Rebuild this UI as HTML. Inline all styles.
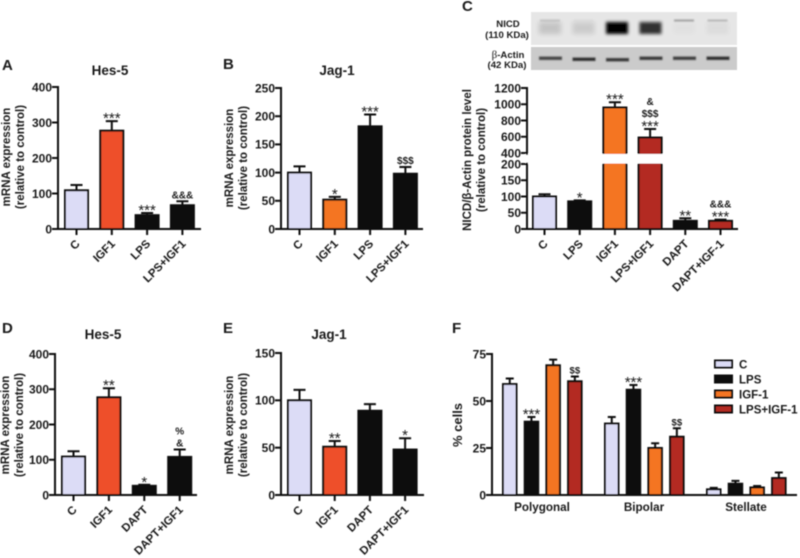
<!DOCTYPE html>
<html lang="en">
<head>
<meta charset="utf-8">
<title>Notch signalling figure</title>
<style>
html,body{margin:0;padding:0;background:#fff;}
svg{display:block;font-family:"Liberation Sans",Arial,sans-serif;}
text{fill:#1a1a1a;}
</style>
</head>
<body>
<svg id="figure" width="800" height="558" viewBox="0 0 800 558" xmlns="http://www.w3.org/2000/svg">
  <defs>
    <filter id="soft" x="-2%" y="-2%" width="104%" height="104%"><feGaussianBlur stdDeviation="0.4"/></filter>
    <filter id="bandBlur" x="-30%" y="-60%" width="160%" height="220%"><feGaussianBlur stdDeviation="1.6"/></filter>
    <filter id="bandBlurThin" x="-30%" y="-150%" width="160%" height="400%"><feGaussianBlur stdDeviation="0.9"/></filter>
    <filter id="bandBlurWide" x="-30%" y="-60%" width="160%" height="220%"><feGaussianBlur stdDeviation="2.4"/></filter>
  </defs>
  <g id="root" filter="url(#soft)">
    <text x="2" y="70" font-size="15" font-weight="bold">A</text>
    <text x="223" y="69" font-size="15" font-weight="bold">B</text>
    <text x="462" y="11" font-size="15" font-weight="bold">C</text>
    <text x="2" y="333" font-size="15" font-weight="bold">D</text>
    <text x="223" y="333" font-size="15" font-weight="bold">E</text>
    <text x="452" y="333" font-size="15" font-weight="bold">F</text>

    <text x="110" y="75" font-size="13.5" font-weight="bold" text-anchor="middle">Hes-5</text>
    <text x="337" y="75" font-size="13.5" font-weight="bold" text-anchor="middle">Jag-1</text>
    <text x="103" y="339" font-size="13.5" font-weight="bold" text-anchor="middle">Hes-5</text>
    <text x="329" y="339" font-size="13.5" font-weight="bold" text-anchor="middle">Jag-1</text>

    <g font-size="11.5" font-weight="bold" text-anchor="middle">
      <text transform="translate(10,157) rotate(-90)">mRNA expression</text>
      <text transform="translate(24,157) rotate(-90)">(relative to control)</text>
    </g>
    <g font-size="11.5" font-weight="bold" text-anchor="middle">
      <text transform="translate(233,158) rotate(-90)">mRNA expression</text>
      <text transform="translate(247,158) rotate(-90)">(relative to control)</text>
    </g>
    <g font-size="11.5" font-weight="bold" text-anchor="middle">
      <text transform="translate(471,160) rotate(-90)">NICD/β-Actin protein level</text>
      <text transform="translate(485,160) rotate(-90)">(relative to control)</text>
    </g>
    <g font-size="11.5" font-weight="bold" text-anchor="middle">
      <text transform="translate(9,425) rotate(-90)">mRNA expression</text>
      <text transform="translate(23,425) rotate(-90)">(relative to control)</text>
    </g>
    <g font-size="11.5" font-weight="bold" text-anchor="middle">
      <text transform="translate(233,425) rotate(-90)">mRNA expression</text>
      <text transform="translate(247,425) rotate(-90)">(relative to control)</text>
    </g>
    <text transform="translate(462,425) rotate(-90)" font-size="13" font-weight="bold" text-anchor="middle">% cells</text>

    <g>
      <rect x="531" y="12" width="206" height="33" fill="#e6e6e6"/>
      <rect x="531" y="47" width="206" height="23" fill="#cbcbcb"/>
      <g id="blotBands"></g>
      <g font-size="9.6" font-weight="bold" text-anchor="middle">
        <text x="508" y="27">NICD</text>
        <text x="507" y="38">(110 KDa)</text>
        <text x="508" y="58"><tspan font-family="'Liberation Serif',serif" font-weight="normal" font-size="11">β</tspan>-Actin</text>
        <text x="507" y="68">(42 KDa)</text>
      </g>
    </g>

    <g id="charts"></g>

    <g id="legend"></g>
  </g>
</svg>

<script>
// ---- Panel A ----
const panelACategories = ['C', 'IGF1', 'LPS', 'LPS+IGF1'];
const panelAValues = [109, 277, 39, 67];
const panelAErrorTops = [124, 304, 45, 78];
const panelATicks = [0, 100, 200, 300, 400];
const panelAMarks = [[], ['***'], ['***'], ['&&&']];

// ---- Panel B ----
const panelBCategories = ['C', 'IGF1', 'LPS', 'LPS+IGF1'];
const panelBValues = [100, 52, 182, 98];
const panelBErrorTops = [111, 57, 203, 110];
const panelBTicks = [0, 50, 100, 150, 200, 250];
const panelBMarks = [[], ['*'], ['***'], ['$$$']];

// ---- Panel C ----
const panelCCategories = ['C', 'LPS', 'IGF1', 'LPS+IGF1', 'DAPT', 'DAPT+IGF-1'];
const panelCValues = [100, 85, 960, 590, 25, 25];
const panelCErrorTops = [107, 88, 1025, 695, 33, 29];
const panelCTicks = [0, 50, 100, 150, 200, 400, 600, 800, 1000, 1200];
const panelCMarks = [[], ['*'], ['***'], ['***', '$$$', '&'], ['**'], ['***', '&&&']];

// ---- Panel D ----
const panelDCategories = ['C', 'IGF1', 'DAPT', 'DAPT+IGF1'];
const panelDValues = [109, 277, 26, 108];
const panelDErrorTops = [124, 303, 29, 129];
const panelDTicks = [0, 100, 200, 300, 400];
const panelDMarks = [[], ['**'], ['*'], ['&', '%']];

// ---- Panel E ----
const panelECategories = ['C', 'IGF1', 'DAPT', 'DAPT+IGF1'];
const panelEValues = [100, 51, 89, 48];
const panelEErrorTops = [111, 57, 96, 60];
const panelETicks = [0, 50, 100, 150];
const panelEMarks = [[], ['**'], [], ['*']];

// ---- Panel F ----
const panelFGroups = ['Polygonal', 'Bipolar', 'Stellate'];
const panelFSeries = ['C', 'LPS', 'IGF-1', 'LPS+IGF-1'];
const panelFControl = [59, 38, 3];
const panelFControlTops = [62, 41.5, 3.8];
const panelFLps = [39, 56, 6];
const panelFLpsTops = [41.5, 58.5, 7.5];
const panelFIgf = [69, 25, 4];
const panelFIgfTops = [72, 27.5, 4.8];
const panelFCombo = [60.5, 31, 9];
const panelFComboTops = [63, 35.5, 12];
const panelFTicks = [0, 25, 50, 75];
const panelFControlMarks = [[], [], []];
const panelFLpsMarks = [['***'], ['***'], []];
const panelFIgfMarks = [[], [], []];
const panelFComboMarks = [['$$'], ['$$'], []];

// ---- Blot band relative intensities, one per lane ----
const blotNicdBand = [0.14, 0.11, 1, 0.78, 0.02, 0.04];
const blotNicdUpper = [0.12, 0.02, 0, 0, 0.3, 0.2];
const blotActinBand = [0.6, 0.72, 0.66, 0.66, 0.64, 0.72];

const SVGNS = 'http://www.w3.org/2000/svg';
const INK = '#111';
const LAV = '#dcdcf6';
const RED = '#ee5029';
const ORANGE = '#f47422';
const BRICK = '#b32a21';
const BLACK = '#111';

function mk(tag, attrs, parent, txt) {
  const n = document.createElementNS(SVGNS, tag);
  for (const k in attrs) n.setAttribute(k, attrs[k]);
  if (txt !== undefined) n.textContent = txt;
  parent.appendChild(n);
  return n;
}

function linearScale(yBottom, yTop, maxV) {
  return function (v) { return yBottom - (v / maxV) * (yBottom - yTop); };
}

function brokenScale(yBottom, yBreakLow, yBreakHigh, yTop, lowMax, highMin, highMax) {
  return function (v) {
    if (v <= lowMax) return yBottom - (v / lowMax) * (yBottom - yBreakLow);
    if (v < highMin) return yBreakLow;
    return yBreakHigh - ((v - highMin) / (highMax - highMin)) * (yBreakHigh - yTop);
  };
}

function drawMarks(parent, key, cx, topY, lines, smallSize) {
  let cursor = topY - 3;
  lines.forEach(function (line, i) {
    const star = line.charAt(0) === '*';
    const t = mk('text', {
      x: cx,
      y: star ? cursor + 5 : cursor,
      'text-anchor': 'middle',
      'font-size': star ? 15 : smallSize,
      'font-weight': star ? 'normal' : 'bold'
    }, parent, line);
    
    
    cursor -= star ? 9 : 12;
  });
}

function drawBar(parent, key, left, width, y0, scale, value, errTop, fill, capW, marks, smallSize) {
  const cx = left + width / 2;
  const yTop = scale(value);
  const yErr = scale(errTop);
  const err = mk('path', {
    d: 'M' + cx + ' ' + yTop + 'V' + yErr + 'M' + (cx - capW / 2) + ' ' + yErr + 'H' + (cx + capW / 2),
    stroke: INK, 'stroke-width': 2, fill: 'none'
  }, parent);
  
  
  const bar = mk('rect', {
    x: left + 1, y: yTop, width: width - 2, height: Math.max(0, y0 - yTop),
    fill: fill, stroke: INK, 'stroke-width': 2
  }, parent);
  
  
  drawMarks(parent, key, cx, yErr, marks, smallSize);
}

function drawAxes(g, id, xAxis, xEnd, y0, yTop, scale, ticks) {
  const yLine = mk('line', { x1: xAxis, x2: xAxis, y1: yTop - 1, y2: y0 + 1, stroke: INK, 'stroke-width': 2 }, g);
  
  
  const xLine = mk('line', { x1: xAxis - 6, x2: xEnd, y1: y0, y2: y0, stroke: INK, 'stroke-width': 2 }, g);
  
  
  ticks.forEach(function (tv) {
    const y = scale(tv);
    const tick = mk('line', { x1: xAxis - 6, x2: xAxis, y1: y, y2: y, stroke: INK, 'stroke-width': 2 }, g);
    
    
    const lab = mk('text', { x: xAxis - 6, y: y + 4.3, 'text-anchor': 'end', 'font-size': 12, 'font-weight': 'bold' }, g, String(tv));
    
    
  });
}

function drawColumnPanel(id, opts, cats, vals, tops, ticks, marks, fills) {
  const root = document.getElementById('charts');
  const g = mk('g', {}, root);
  
  
  cats.forEach(function (c, i) {
    const left = opts.start + i * opts.step;
    const cx = left + opts.width / 2;
    const key = id + '-' + c.toLowerCase().replace(/\+/g, '-');
    drawBar(g, key, left, opts.width, opts.y0, opts.scale, vals[i], tops[i], fills[i], 12, marks[i], 10);
    const tick = mk('line', { x1: cx, x2: cx, y1: opts.y0, y2: opts.y0 + 6, stroke: INK, 'stroke-width': 2 }, g);
    
    
    const ax = cx + 4;
    const ay = opts.y0 + 15.5;
    const lab = mk('text', {
      x: ax, y: ay, 'text-anchor': 'end', 'font-size': 11.5, 'font-weight': 'bold',
      transform: 'rotate(-45 ' + ax + ' ' + ay + ')'
    }, g, c);
    
    
  });
  if (opts.gap) {
    const gapRect = mk('rect', { x: opts.xAxis - 1.5, y: opts.gap[0], width: opts.xEnd - opts.xAxis, height: opts.gap[1] - opts.gap[0], fill: '#fff' }, g);
    
    
  }
  drawAxes(g, id, opts.xAxis, opts.xEnd, opts.y0, opts.yTop, opts.scale, ticks);
  if (opts.gap) {
    const gapAxis = mk('rect', { x: opts.xAxis - 1.5, y: opts.gap[0] + 1, width: 3, height: opts.gap[1] - opts.gap[0] - 2, fill: '#fff' }, g);
    
    
  }
}

drawColumnPanel('a', { xAxis: 58, xEnd: 201, y0: 229, yTop: 87, start: 64, step: 35.3, width: 25, scale: linearScale(229, 87, 400) },
  panelACategories, panelAValues, panelAErrorTops, panelATicks, panelAMarks, [LAV, RED, BLACK, BLACK]);

drawColumnPanel('b', { xAxis: 281, xEnd: 423, y0: 229, yTop: 88, start: 287, step: 35.3, width: 25, scale: linearScale(229, 88, 250) },
  panelBCategories, panelBValues, panelBErrorTops, panelBTicks, panelBMarks, [LAV, ORANGE, BLACK, BLACK]);

drawColumnPanel('c', { xAxis: 527, xEnd: 738, y0: 229, yTop: 88, start: 532, step: 35.2, width: 25, gap: [154, 163.5],
    scale: brokenScale(229, 164, 153, 88, 200, 400, 1200) },
  panelCCategories, panelCValues, panelCErrorTops, panelCTicks, panelCMarks, [LAV, BLACK, ORANGE, BRICK, BLACK, BRICK]);

drawColumnPanel('d', { xAxis: 55, xEnd: 197, y0: 495, yTop: 354, start: 61, step: 35.4, width: 25, scale: linearScale(495, 354, 400) },
  panelDCategories, panelDValues, panelDErrorTops, panelDTicks, panelDMarks, [LAV, RED, BLACK, BLACK]);

drawColumnPanel('e', { xAxis: 281, xEnd: 424, y0: 495, yTop: 353, start: 287, step: 35.2, width: 25, scale: linearScale(495, 353, 150) },
  panelECategories, panelEValues, panelEErrorTops, panelETicks, panelEMarks, [LAV, RED, BLACK, BLACK]);

// ---- Panel F (grouped) ----
(function () {
  const root = document.getElementById('charts');
  const g = mk('g', {}, root);
  
  
  const y0 = 495;
  const scale = linearScale(495, 354, 75);
  const seriesVals = [panelFControl, panelFLps, panelFIgf, panelFCombo];
  const seriesTops = [panelFControlTops, panelFLpsTops, panelFIgfTops, panelFComboTops];
  const seriesMarks = [panelFControlMarks, panelFLpsMarks, panelFIgfMarks, panelFComboMarks];
  const fills = [LAV, BLACK, ORANGE, BRICK];
  panelFGroups.forEach(function (groupName, gi) {
    const groupLeft = 502 + gi * 102;
    panelFSeries.forEach(function (s, si) {
      const left = groupLeft + si * 21.7;
      const key = 'f-' + groupName.toLowerCase() + '-' + s.toLowerCase().replace(/\+/g, '-');
      drawBar(g, key, left, 15.5, y0, scale, seriesVals[si][gi], seriesTops[si][gi], fills[si], 8, seriesMarks[si][gi], 9.5);
    });
    const lab = mk('text', { x: groupLeft + 40, y: 511, 'text-anchor': 'middle', 'font-size': 11.7, 'font-weight': 'bold' }, g, groupName);
    
    
  });
  drawAxes(g, 'f', 492, 797, y0, 354, scale, panelFTicks);

  const legend = document.getElementById('legend');
  panelFSeries.forEach(function (s, i) {
    const y = 364 + i * 15;
    const entry = mk('g', {}, legend);
    
    
    const sw = mk('rect', { x: 715, y: y - 3.5, width: 17, height: 7, fill: fills[i], stroke: INK, 'stroke-width': 2 }, entry);
    
    
    const t = mk('text', { x: 739, y: y + 4.5, 'font-size': 11.5, 'font-weight': 'bold' }, entry, s);
    
    
  });
})();

// ---- Western blot bands ----
(function () {
  const host = document.getElementById('blotBands');
  const laneX = function (i) { return 550 + i * 33.5; };
  blotNicdBand.forEach(function (v, i) {
    const b = mk('rect', { x: laneX(i) - 11, y: 22, width: 22, height: 12, fill: '#000', opacity: v, filter: v > 0.5 ? 'url(#bandBlur)' : 'url(#bandBlurWide)' }, host);
    
    
  });
  blotNicdUpper.forEach(function (v, i) {
    const b = mk('rect', { x: laneX(i) - 10, y: 19.5, width: 20, height: 2, fill: '#000', opacity: v, filter: 'url(#bandBlurThin)' }, host);
    
    
  });
  blotActinBand.forEach(function (v, i) {
    const b = mk('rect', { x: laneX(i) - 11, y: 56.5 + (i === 2 ? 1.5 : i === 1 ? 1 : 0), width: 23, height: 3.5, fill: '#000', opacity: v + 0.05, filter: 'url(#bandBlurThin)' }, host);
    
    
  });
})();
</script>
</body>
</html>
